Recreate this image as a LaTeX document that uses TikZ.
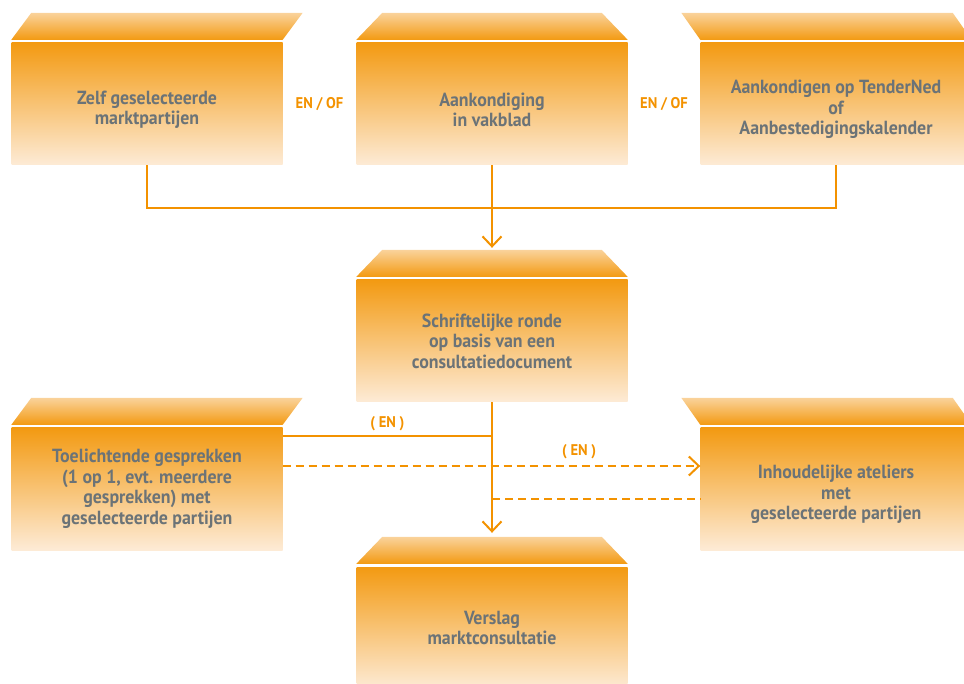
\documentclass[tikz,border=0pt]{standalone}
\usepackage{fontspec}
\setmainfont{PT Sans}[FakeStretch=0.94]
\usetikzlibrary{arrows.meta,calc}
\definecolor{oranje}{HTML}{F39200}
\definecolor{boxtop}{HTML}{F39A12}
\definecolor{boxbottom}{HTML}{FDEBD6}
\definecolor{tekst}{HTML}{6B7377}
\newcommand{\zakken}{\rule{0pt}{25pt}}
\tikzset{
  blok/.style={rectangle, inner sep=0pt, minimum width=271pt, minimum height=122pt,
    top color=boxtop, bottom color=boxbottom, text=tekst, align=center,
    font=\bfseries\fontsize{19}{20.5}\selectfont},
  kap/.style={top color=boxbottom!70!boxtop, bottom color=boxtop},
  lijn/.style={draw=oranje, line width=2pt},
  pijl/.style={lijn, -{Straight Barb[length=10pt,width=19pt]}},
  stippel/.style={lijn, dash pattern=on 8pt off 5pt},
  tag/.style={text=oranje, font=\bfseries\fontsize{15.5}{17}\selectfont}
}
% schuine bovenkant van een blok: #2 en #3 = verschuiving links/rechts
\newcommand{\blokkap}[3]{%
  \shade[kap] ([yshift=3pt]#1.north west) -- ([yshift=3pt]#1.north east)
    -- ++(#3,-27) -- ([xshift=#2pt,yshift=30pt]#1.north west) -- cycle;}
\begin{document}
\begin{tikzpicture}[x=1pt,y=-1pt]
  \clip (0,0) rectangle (964,684);
  \node[blok] (zelf) at (147,104) {\zakken Zelf geselecteerde\\marktpartijen};
  \node[blok] (vakblad) at (492,104) {\zakken Aankondiging\\in vakblad};
  \node[blok] (tender) at (836,104) {\zakken Aankondigen op TenderNed\\of\\Aanbestedigingskalender};
  \node[blok] (ronde) at (492,341) {Schriftelijke ronde\\op basis van een\\consultatiedocument};
  \node[blok] (gesprek) at (147,489) {Toelichtende gesprekken\\(1 op 1, evt. meerdere\\gesprekken) met\\geselecteerde partijen};
  \node[blok] (atelier) at (836,489) {\zakken Inhoudelijke ateliers\\met\\geselecteerde partijen};
  \node[blok] (verslag) at (492,628) {Verslag\\marktconsultatie};

  \blokkap{zelf}{20}{20}
  \blokkap{gesprek}{20}{20}
  \blokkap{tender}{-19}{-19}
  \blokkap{atelier}{-19}{-19}
  \blokkap{vakblad}{26}{-26}
  \blokkap{ronde}{26}{-26}
  \blokkap{verslag}{26}{-26}

  \node[tag] at ($(zelf.east)!0.5!(vakblad.west)$) {EN / OF};
  \node[tag] at ($(vakblad.east)!0.5!(tender.west)$) {EN / OF};

  \draw[lijn] (zelf.south) -- ++(0,43) -| (tender.south);
  \draw[pijl] (vakblad.south) -- ([yshift=32pt]ronde.north);
  \draw[pijl] (ronde.south) -- ([yshift=34pt]verslag.north);

  \coordinate (g1) at ([yshift=53pt]gesprek.east);
  \coordinate (g2) at ([yshift=23pt]gesprek.east);
  \coordinate (a2) at ([yshift=23pt]atelier.west);
  \coordinate (a3) at ([yshift=-10pt]atelier.west);
  \draw[lijn] (g1) -- node[tag, above=1pt] {( EN )} (ronde.south |- g1);
  \draw[stippel, -{Straight Barb[length=10pt,width=19pt]}] (g2) -- node[tag, pos=0.71, above=3pt] {( EN )} (a2);
  \draw[stippel] (ronde.south |- a3) -- (a3);
\end{tikzpicture}
\end{document}
